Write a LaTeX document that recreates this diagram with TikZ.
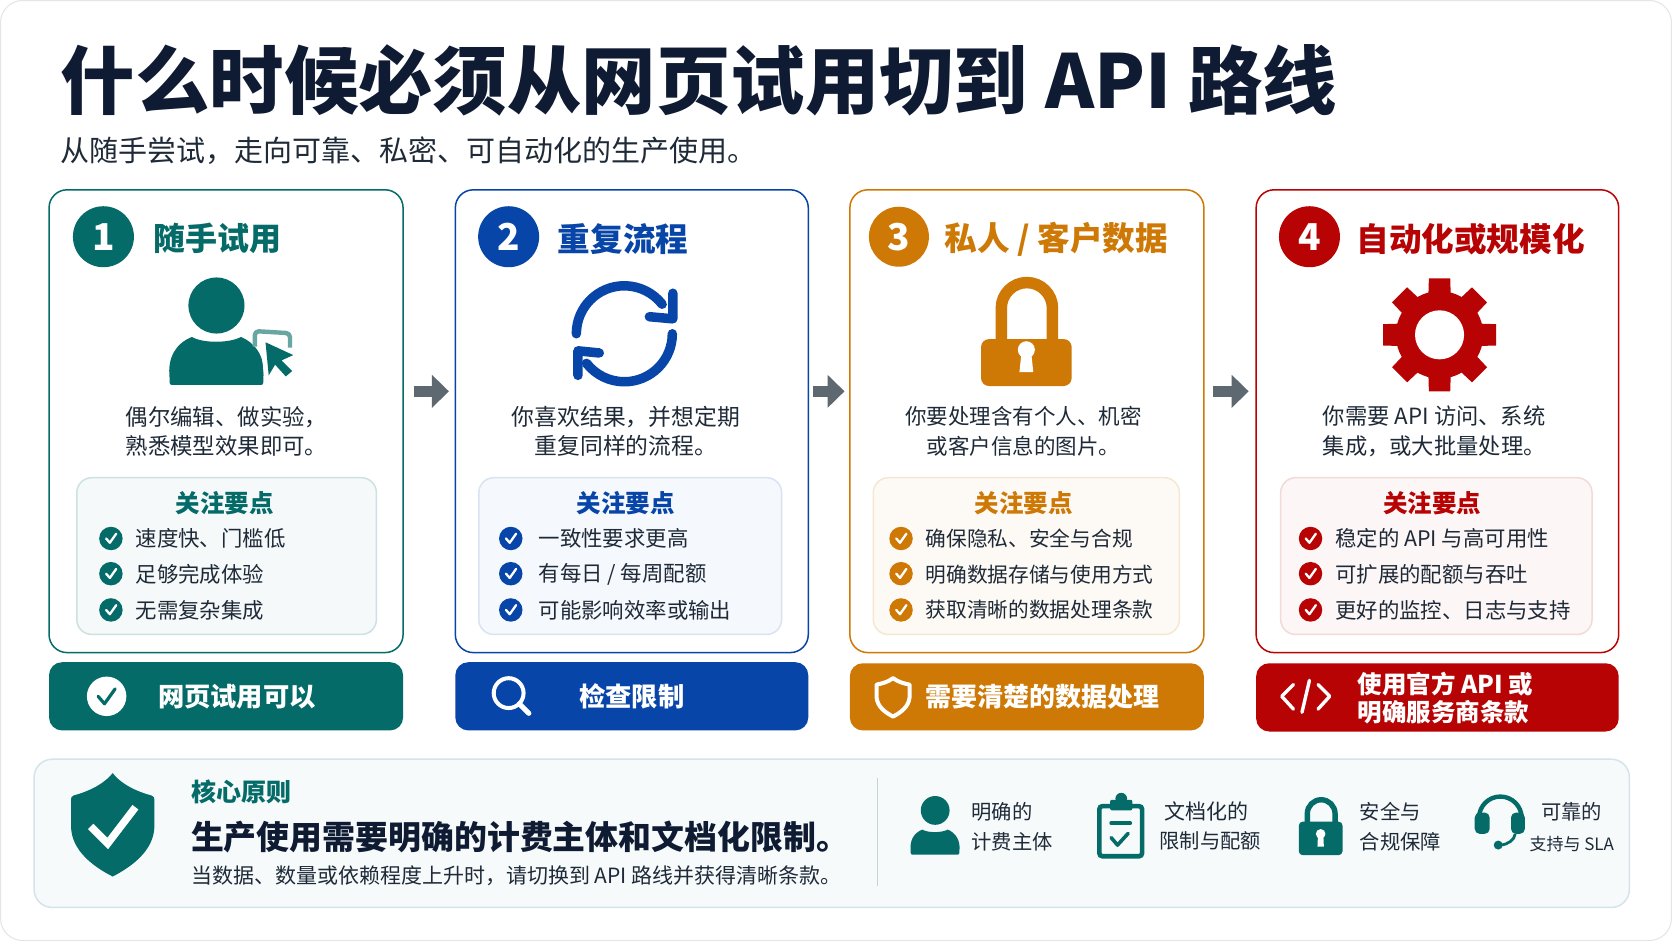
\documentclass[tikz,border=0pt]{standalone}
\usepackage{fontspec}
\setmainfont{Noto Sans CJK SC}
\usetikzlibrary{arrows.meta,fit,calc}
\definecolor{teal1}{HTML}{046B68}
\definecolor{blue1}{HTML}{0845A8}
\definecolor{orange1}{HTML}{CE7805}
\definecolor{red1}{HTML}{B70303}
\definecolor{ink}{HTML}{1F2A38}
\definecolor{navy}{HTML}{0F1A33}
\definecolor{arrowgray}{HTML}{5E6871}
\definecolor{corefill}{HTML}{F6FAFB}
\definecolor{coreline}{HTML}{D4E4EA}
\definecolor{divline}{HTML}{C6D3DB}
\newcommand{\fsz}[1]{\fontsize{#1}{#1}\selectfont}
\newcommand{\checkmk}[3]{\fill[#3] (#1,#2) circle (11);
  \draw[white,line width=2.3pt,line cap=round,line join=round] (#1-4.5,#2) -- (#1-1,#2+4) -- (#1+5,#2-4.5);}
\newcommand{\personshape}[1]{%
  \fill[#1] (2,45) .. controls (0.5,45) and (0,44) .. (0,42) -- (0,38) .. controls (-2,19) and (6,6) .. (21,0) .. controls (31,6) and (56,6) .. (67,0) .. controls (81,6) and (90,19) .. (88,38) -- (88,42) .. controls (88,44) and (87.5,45) .. (86,45) -- cycle;}
\tikzset{
  x=1.0663pt,y=-1.0663pt,
  card/.style={draw=#1,line width=1.5pt,fill=white,rounded corners=18pt,inner sep=0pt,outer sep=0pt},
  panel/.style n args={2}{draw=#1,fill=#2,line width=1.5pt,rounded corners=15pt,inner sep=0pt,outer sep=0pt},
  banner/.style={fill=#1,rounded corners=13pt,inner sep=0pt,outer sep=0pt},
  badge/.style={circle,fill=#1,text=white,inner sep=0pt,font=\fsz{37}\bfseries},
  cardtitle/.style={anchor=west,inner sep=0pt,text=#1,font=\fsz{32.6}\bfseries},
  desc/.style={align=center,inner sep=0pt,text=ink},
  focushead/.style={inner sep=0pt,text=#1,font=\fsz{24.5}\bfseries},
  item/.style={anchor=west,inner sep=0pt,text=ink,font=\fsz{21.4}},
  bantext/.style={anchor=west,inner sep=0pt,text=white,font=\fsz{26.3}\bfseries},
  smalltxt/.style={inner sep=0pt,text=ink,font=\fsz{20.3}},
  flow/.style={draw=arrowgray,line width=11pt,-{Triangle[length=17pt,width=32pt]}},
}
\begin{document}
\begin{tikzpicture}
\useasboundingbox (0,0) rectangle (1568,882.5);
\fill[white] (0,0) rectangle (1568,882.5);
\draw[draw=black!10,line width=1pt,rounded corners=22pt] (0.5,0.5) rectangle (1567.5,882);

% title
\node[anchor=west,inner sep=0pt,text=navy,font=\fsz{74.4}\bfseries] (title) at (57,75.5) {什么时候必须从网页试用切到 API 路线};
\node[anchor=west,inner sep=0pt,text=ink,font=\fsz{29}] (subtitle) at (57,141.5) {从随手尝试，走向可靠、私密、可自动化的生产使用。};

% cards
\node[card=teal1,fit={(46,178)(378,612)}] (card1) {};
\node[card=blue1,fit={(427,178)(758,612)}] (card2) {};
\node[card=orange1,fit={(797,178)(1129,612)}] (card3) {};
\node[card=red1,fit={(1178,178)(1518,612)}] (card4) {};

% flow arrows
\coordinate (f1a) at (388,367); \coordinate (f1b) at (421,367);
\coordinate (f2a) at (762,367); \coordinate (f2b) at (792,367);
\coordinate (f3a) at (1138,367); \coordinate (f3b) at (1171,367);
\draw[flow] (f1a) -- (f1b);
\draw[flow] (f2a) -- (f2b);
\draw[flow] (f3a) -- (f3b);

% badges and titles
\node[badge=teal1,minimum size=61pt] (b1) at (97,222) {1};
\node[badge=blue1,minimum size=61pt] (b2) at (477,222) {2};
\node[badge=orange1,minimum size=60pt] (b3) at (843,222) {3};
\node[badge=red1,minimum size=61pt] (b4) at (1228,222) {4};
\node[cardtitle=teal1,font=\fsz{32}\bfseries] (t1) at (144,224) {随手试用};
\node[cardtitle=blue1] (t2) at (523,224) {重复流程};
\node[cardtitle=orange1] (t3) at (886,224) {私人 / 客户数据};
\node[cardtitle=red1] (t4) at (1272,224) {自动化或规模化};

% icon 1: person + cursor
\fill[teal1] (203,286.5) circle (26.3);
\begin{scope}[shift={(159,316)}]\personshape{teal1}\end{scope}
\draw[draw=teal1!60!white,line width=4.4pt,line join=round,rounded corners=4pt] (239,325) -- (239,310.5) -- (272,312.5) -- (272,326);
\fill[white] (244,316) -- (280,332) -- (280,358) -- (248,358) -- cycle;
\fill[teal1,line join=round] (249,321) -- (275,333) -- (264,338) -- (274,348) -- (268,353) -- (258,342) -- (252,352) -- cycle;

% icon 2: sync
\begin{scope}[shift={(585.5,313)},line width=9.5pt,line cap=round,line join=round]
\draw[blue1] (-180:45) arc[start angle=-180,end angle=-38,radius=45];
\draw[blue1] (631-585.5,275-313) -- (631-585.5,299-313) -- (609-585.5,297-313);
\draw[blue1] (0:45) arc[start angle=0,end angle=142,radius=45];
\draw[blue1] (542-585.5,352-313) -- (542-585.5,329-313) -- (562-585.5,331-313);
\end{scope}

% icon 3: lock
\draw[orange1,line width=11.5pt] (939,320) -- (939,289) arc[start angle=-180,end angle=0,radius=24] -- (987,320);
\fill[orange1,rounded corners=8pt] (920,318) rectangle (1005,362);
\fill[white] (962.5,328) circle (8);
\fill[white] (958,330) -- (967,330) -- (969,349) -- (956,349) -- cycle;

% icon 4: gear
\foreach \a in {0,45,...,315}{
  \fill[red1,rotate around={\a:(1350,314)},line join=round] (1338,326) -- (1340,261) -- (1360,261) -- (1362,326) -- cycle;
}
\fill[red1] (1350,314) circle (41);
\fill[white] (1350,314) circle (23);

% descriptions
\node[desc,font=\fsz{22.4}] (d1) at (212.5,404.5) {偶尔编辑、做实验，\\[7pt]熟悉模型效果即可。};
\node[desc,font=\fsz{22.8}] (d2) at (587,404.5) {你喜欢结果，并想定期\\[6.5pt]重复同样的流程。};
\node[desc,font=\fsz{21.5}] (d3) at (960,404.5) {你要处理含有个人、机密\\[8pt]或客户信息的图片。};
\node[desc,font=\fsz{22.3}] (d4) at (1345,404.5) {你需要 API 访问、系统\\[7pt]集成，或大批量处理。};

% focus panels
\node[panel={teal1!20!white}{teal1!4!white},fit={(72,448)(353,595)}] (p1) {};
\node[panel={blue1!15!white}{blue1!4!white},fit={(449,448)(733,595)}] (p2) {};
\node[panel={orange1!18!white}{orange1!4!white},fit={(819,448)(1106,595)}] (p3) {};
\node[panel={red1!15!white}{red1!3.5!white},fit={(1201,448)(1493,595)}] (p4) {};
\node[focushead=teal1] (h1) at (211,471.5) {关注要点};
\node[focushead=blue1] (h2) at (587,471.5) {关注要点};
\node[focushead=orange1] (h3) at (960,471.5) {关注要点};
\node[focushead=red1] (h4) at (1343,471.5) {关注要点};

\foreach \y in {505,538,572}{
  \checkmk{104}{\y}{teal1}
  \checkmk{479}{\y}{blue1}
  \checkmk{845}{\y}{orange1}
  \checkmk{1229}{\y}{red1}
}
\node[item] (i11) at (127,505) {速度快、门槛低};
\node[item] (i12) at (127,538.5) {足够完成体验};
\node[item] (i13) at (127,572) {无需复杂集成};
\node[item] (i21) at (505,505) {一致性要求更高};
\node[item] (i22) at (505,538.5) {有每日 / 每周配额};
\node[item] (i23) at (505,572) {可能影响效率或输出};
\node[item,font=\fsz{20.7}] (i31) at (868,505) {确保隐私、安全与合规};
\node[item,font=\fsz{20.7}] (i32) at (868,538.5) {明确数据存储与使用方式};
\node[item,font=\fsz{20.7}] (i33) at (868,572) {获取清晰的数据处理条款};
\node[item] (i41) at (1252,505) {稳定的 API 与高可用性};
\node[item] (i42) at (1252,538.5) {可扩展的配额与吞吐};
\node[item] (i43) at (1252,572) {更好的监控、日志与支持};

% banners
\node[banner=teal1,fit={(46,621)(378,685)}] (ban1) {};
\node[banner=blue1,fit={(427,621)(758,685)}] (ban2) {};
\node[banner=orange1,fit={(797,622)(1129,685)}] (ban3) {};
\node[banner=red1,fit={(1178,622)(1518,686)}] (ban4) {};
\fill[white] (100,653) circle (18.5);
\draw[teal1,line width=3.2pt,line cap=round,line join=round] (92,653) -- (98,660) -- (108,646);
\node[bantext] (bt1) at (148,653) {网页试用可以};
\draw[white,line width=4pt] (477,650) circle (14);
\draw[white,line width=5pt,line cap=round] (487,660) -- (496,669);
\node[bantext] (bt2) at (543,653) {检查限制};
\draw[white,line width=4pt,line join=round] (837.5,636) .. controls (832,640) and (827,641) .. (822,642) -- (822,654) .. controls (823,663) and (830,668) .. (837.5,672) .. controls (845,668) and (852,663) .. (853,654) -- (853,642) .. controls (848,641) and (843,640) .. (837.5,636) -- cycle;
\node[bantext,font=\fsz{26}\bfseries] (bt3) at (868,653) {需要清楚的数据处理};
\draw[white,line width=3.4pt,line cap=round,line join=round] (1213,642) -- (1202,653) -- (1213,665);
\draw[white,line width=3.4pt,line cap=round] (1228,638) -- (1221,668);
\draw[white,line width=3.4pt,line cap=round,line join=round] (1236,642) -- (1247,653) -- (1236,665);
\node[anchor=west,align=left,inner sep=0pt,text=white,font=\fsz{24.5}\bfseries] (bt4) at (1273,654.5) {使用官方 API 或\\[3.5pt]明确服务商条款};

% bottom panel
\node[panel={coreline}{corefill},rounded corners=18pt,fit={(32,712)(1528,851)}] (core) {};
\fill[teal1,line join=round] (105.7,725) .. controls (96,737) and (80,743) .. (69,746) .. controls (67,747) and (66.6,748) .. (66.6,750) -- (66.6,775) .. controls (67,798) and (88,813) .. (105.7,822) .. controls (123,813) and (144.4,798) .. (144.8,775) -- (144.8,750) .. controls (144.8,748) and (144.4,747) .. (142,746) .. controls (131,743) and (115,737) .. (105.7,725) -- cycle;
\draw[white,line width=7.5pt,line join=miter] (85,775) -- (101,791) -- (127,757);
\node[anchor=west,inner sep=0pt,text=teal1,font=\fsz{25}\bfseries] (c1) at (179,743) {核心原则};
\node[anchor=west,inner sep=0pt,text=navy,font=\fsz{32.9}\bfseries] (c2) at (179,785) {生产使用需要明确的计费主体和文档化限制。};
\node[anchor=west,inner sep=0pt,text=ink,font=\fsz{21}] (c3) at (179,821) {当数据、数量或依赖程度上升时，请切换到 API 路线并获得清晰条款。};
\coordinate (div1) at (823,730); \coordinate (div2) at (823,831);
\draw[divline,line width=1.5pt] (div1) -- (div2);

% small person
\fill[teal1] (877,760) circle (13.5);
\begin{scope}[shift={(854,778)},scale=0.52]\personshape{teal1}\end{scope}
\node[smalltxt,anchor=west] (s1a) at (911,761) {明确的};
\node[smalltxt,anchor=west] (s1b) at (911,789) {计费主体};

% clipboard
\draw[teal1,line width=4.6pt,rounded corners=3pt] (1031,756) rectangle (1071,803);
\fill[teal1,rounded corners=2pt] (1041,750) rectangle (1062,760);
\fill[teal1] (1051.5,749) circle (5.5);
\draw[teal1,line width=3.6pt,line cap=round] (1042,772) -- (1060,772);
\draw[teal1,line width=3.6pt,line cap=round,line join=round] (1042,785.5) -- (1048,792.5) -- (1058,781.5);
\node[smalltxt,font=\fsz{21}] (s2a) at (1131,761) {文档化的};
\node[smalltxt] (s2b) at (1135,789) {限制与配额};

% small lock
\draw[teal1,line width=5.4pt] (1226,772) -- (1226,763) arc[start angle=-180,end angle=0,radius=13] -- (1252,772);
\fill[teal1,rounded corners=4pt] (1218,770.5) rectangle (1259,802);
\fill[white] (1238.5,782) circle (4.5);
\fill[white] (1236,783) -- (1241,783) -- (1241.5,794) -- (1235.5,794) -- cycle;
\node[smalltxt,anchor=west] (s3a) at (1275,761) {安全与};
\node[smalltxt,anchor=west] (s3b) at (1275,789) {合规保障};

% headset
\draw[teal1,line width=4.4pt] (1387,772) -- (1387,767) arc[start angle=-180,end angle=0,radius=20] -- (1427,772);
\fill[teal1,rounded corners=5pt] (1383,762) rectangle (1397,782);
\fill[teal1,rounded corners=5pt] (1417,762) rectangle (1430,782);
\draw[teal1,line width=2.8pt] (1421,782) .. controls (1420,788) and (1414,792) .. (1407,792.5);
\fill[teal1] (1405,792.5) circle (4.2);
\node[smalltxt] (s4a) at (1474,761) {可靠的};
\node[smalltxt,font=\fsz{17}] (s4b) at (1474,792) {支持与 SLA};
\end{tikzpicture}
\end{document}
